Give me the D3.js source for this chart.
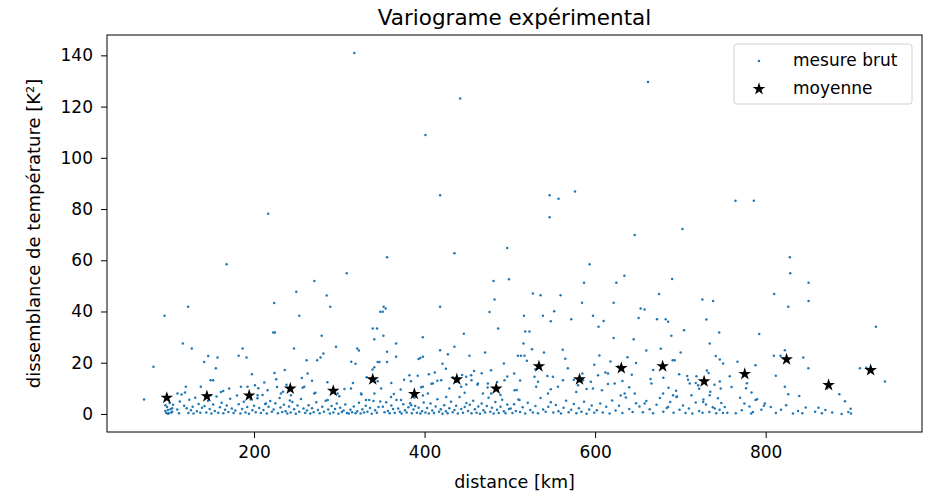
<!DOCTYPE html>
<html>
<head>
<meta charset="utf-8">
<script src="https://cdn.jsdelivr.net/npm/d3@7"></script>
<style>
  body { margin: 0; background: #fff; }
  text { font-family: "DejaVu Sans", sans-serif; fill: #000; }
</style>
</head>
<body>
<div id="wrapper"></div>
<script>
'use strict';

// raw measurements: distance [km] / dissemblance [K^2]
const rawPoints = [
  [71,5.6],[82,18.4],[95,38.3],[96,1.2],[97,0.4],[98,2.7],[99,1.5],[100,0.3],[101,4.3],[102,1.8],[103,0.6],[104,2.2],[96,3.4],[99,0.1],[104,0.9],[105,3.6],
  [116.5,27.5],[122.7,41.9],[127,25.6],[113,4.9],[115,7.6],[118,3.2],[119,8.4],[121,2.2],[123,0.4],[124,5.5],[126,1.4],[128,2.8],[129,0.2],[131,6.3],[133,1.1],[135,3.9],[137,0.5],[139,2.4],[110,1.7],[112,0.3],
  [141.5,20.3],[146.2,22.6],[157.2,22],[149,13.2],[152,13.2],[155.2,17.8],[163.8,9],[167.8,58.4],[181.9,22.7],[186.6,25.6],[191.2,22],[197.5,15.5],[192.4,10.6],[201,11.2],[205,10],
  [142,3.1],[144,0.6],[146,5.2],[148,1.9],[150,0.2],[152,3.7],[154,1.2],[156,6.8],[158,0.5],[160,2.6],[162,4.4],[164,0.3],[166,1.6],[168,3.3],[170,0.8],[172,5.9],[174,2.1],[176,0.4],[178,1.3],[180,7.2],[182,3.8],[184,0.2],[186,1.9],[188,4.8],[190,0.6],[192,2.7],[194,0.1],[196,5.6],[198,1.4],[200,3.2],[202,0.7],[204,6.1],
  [222.5,31.8],[224.5,31.8],[223.7,43.3],[224,16],[226,13.5],[227,10.5],[249.5,47.7],[246.8,25.6],[253,38.3],[256,14],[257,10.2],[261.7,21],[262.8,15.8],[216.6,78.2],[210,7.4],[214,4.1],[212,12.3],[230,6.2],[234,8.7],[238,11.4],[242,5.3],[236,17.2],
  [206,2.3],[208,0.4],[211,1.5],[213,3.9],[215,0.2],[217,2.8],[219,5.1],[221,0.9],[223,1.7],[225,4.2],[228,0.3],[231,2.5],[233,0.8],[235,3.6],[237,1.1],[239,0.2],[241,2.9],[243,0.6],[245,4.7],[247,1.8],[249,0.1],[251,3.3],[253,0.9],[255,5.8],[258,2.1],[260,0.4],
  [270.7,51.9],[274,21],[278,22],[279.3,30.5],[281.3,23.6],[285.2,46.2],[289.4,41.9],[296.1,26.2],[308.7,54.9],[314,20.4],[319,19.6],[321,25.6],[323,24.8],[339.2,33.4],[344.2,33.4],[341,29.2],[347,20.3],[348.1,39.9],[339,17.4],[341,18.2],[349,9.9],[268,13],[272,8.3],[286,12.4],[300,6.9],[306,9.7],[316,12.1],[326,7.6],[332,14.3],[335,5.4],[345,12.8],
  [262,1.3],[264,3.4],[266,0.2],[268,2.2],[270,0.7],[273,4.6],[275,1.5],[277,0.3],[280,2.8],[282,0.9],[284,5.2],[287,1.7],[289,0.2],[291,3.1],[293,0.6],[295,1.9],[297,4.1],[299,0.1],[301,2.4],[303,0.8],[305,1.3],[307,3.7],[309,0.4],[311,0.2],[313,1.6],[315,0.7],[317,2.9],[319,0.3],[321,1.1],[323,4.4],[325,0.2],[327,1.8],[329,0.6],[331,3.2],[333,0.9],[336,2.3],[338,0.1],[340,5.1],[342,1.4],[344,0.5],[346,2.7],[348,4.9],
  [356,61.2],[352,41.9],[354.4,41.2],[350.9,39.9],[351.7,30.5],[366.6,27.5],[366.6,22.3],[356,24.3],[356,20.3],[345,20.3],[397.9,29.9],[393,21.5],[395,21.8],[398,22.3],[401,108.9],[361,12.1],[364,7.8],[372,9.5],[376,13.4],[384,12.8],[388,6.3],[392,14.9],[396,10.4],[398,7.2],
  [351,2.8],[353,0.7],[355,4.6],[357,1.2],[359,0.3],[361,3.3],[363,1.9],[365,0.4],[367,5.4],[369,2.1],[371,0.9],[373,0.2],[375,3.8],[377,1.4],[379,0.6],[381,2.6],[383,4.2],[385,0.3],[387,1.7],[389,3.1],[391,0.5],[393,2.4],[395,0.2],[397,1.1],[399,4.5],
  [418.2,85.4],[441.7,123.2],[418.2,41.9],[418.2,24.9],[427.3,23.3],[435,26.2],[435,62.7],[446,31.3],[405,15.5],[408,11.8],[412,16.2],[415,13],[421,19.6],[425,17.6],[429,9.9],[433,14.3],[437,12.6],[444,15.2],[447,8.3],[449,11.5],
  [401,0.6],[403,2.3],[405,0.2],[407,4.1],[409,1.3],[411,0.4],[413,2.9],[415,5.7],[417,0.9],[419,1.8],[421,0.1],[423,3.4],[425,1.1],[427,0.3],[429,2.2],[431,4.8],[433,0.7],[435,1.5],[437,3.2],[439,0.2],[441,6.6],[443,1.9],[445,0.5],[447,2.7],[449,4.3],
  [452.6,22.7],[471,24],[476.1,39.8],[480.8,51.9],[482,44.7],[486.3,33.4],[496.9,64.8],[498.9,52.6],[455,13.2],[458,16.8],[462,11.4],[467,15.9],[474,10.3],[478,17.1],[485,12.5],[489,7.4],[493,19.7],[497,14.6],
  [451,1.2],[453,3.6],[455,0.3],[457,5.2],[459,1.8],[461,0.5],[463,2.9],[465,0.1],[467,4.1],[469,1.4],[471,0.6],[473,3.1],[475,6.3],[477,0.9],[479,2.4],[481,0.2],[483,4.7],[485,1.6],[487,0.4],[489,2.8],[491,5.5],[493,1.1],[495,0.3],[497,3.7],[499,1.9],
  [509.4,22.7],[513,22.7],[517.2,22.7],[516.5,38.3],[518,32.2],[523,32.2],[516,27.5],[520,20.8],[526,25.3],[527,47],[536,46.3],[538.8,38.3],[540,24],[546.6,85.4],[546.6,76.8],[557.1,84],[548,36.2],[552,40.1],[505,15.8],[508,9.4],[512,13.1],[530,17.5],[533,12.6],[544,14.8],[548,9.6],
  [501,2.1],[503,0.4],[505,3.8],[507,1.2],[510,5.6],[512,0.8],[515,2.6],[518,0.2],[521,4.4],[524,1.5],[527,0.6],[530,3.1],[533,0.3],[536,6.2],[539,1.7],[542,0.9],[545,2.8],[548,4.6],
  [559.5,46.3],[572,37],[576.4,86.8],[584.6,43.4],[587,51.2],[593.5,58.4],[597.5,38.3],[562,25.1],[565,21.6],[568,17.8],[575,13.4],[580,11.2],[585,15.8],[590,9.7],[595,12.6],[599,19.2],
  [551,0.6],[554,3.5],[557,1.1],[560,0.2],[563,2.4],[566,5.2],[569,0.7],[572,1.6],[575,3.9],[578,0.3],[581,2.2],[584,0.9],[587,4.8],[590,0.1],[593,1.7],[596,3.3],[599,0.5],
  [604,34],[610,36.3],[621.7,43.4],[624.9,51.2],[634.3,54],[621.7,29.7],[645.2,29.2],[646.4,69.9],[605,22.8],[612,16.2],[618,20.5],[627,18.6],[632,12.9],[638,22.1],[643,15.3],[648,19.9],[608,9.3],[615,11.7],[630,7.2],[640,10.4],
  [602,1.4],[606,4.1],[609,0.6],[613,2.8],[617,0.2],[620,5.3],[624,1.3],[628,3.2],[632,0.4],[636,6.4],[640,1.9],[644,0.8],[648,4.2],
  [651,37.5],[653.4,41.2],[658,40.8],[662,129.6],[672.6,37],[675,46.8],[682.8,37],[685.6,36],[689.4,30.5],[690.3,52.7],[691,21],[693.3,21],[698.5,15.5],[700.3,24],[702.4,72.2],[660,24.8],[665,13.6],[668,17.2],[677,25.5],[680,14.1],[686,10.2],[695,9.1],
  [652,2.9],[656,0.7],[660,5.1],[664,1.8],[668,0.3],[672,3.6],[676,6.2],[680,0.9],[684,2.3],[688,4.7],[692,0.5],[696,6.8],[699,1.6],
  [704.3,32.7],[725.8,44.7],[738.4,44.1],[730.5,36.9],[745.5,31.8],[734.4,27.5],[741.5,22.6],[746.2,21.3],[750.1,19.7],[731,17],[733,16],[708,14.8],[713,7.3],[718,12.1],[722,9.8],[727,5.6],[735,8.7],[740,11.4],[744,6.1],[748,4.3],
  [703,3.3],[706,0.4],[710,2.1],[714,0.2],[718,4.5],[722,1.2],[726,0.5],[730,3.7],[734,0.8],[738,2.6],[742,0.3],[746,1.6],[750,0.4],
  [757.9,14.7],[764.6,83.2],[767,20.4],[786.1,83.2],[788.1,19],[792.4,31.2],[778,12],[777,10],[760,10.5],[770,6.3],[775,4.1],[781,2.9],[785,0.8],[790,5.7],[795,1.6],[798,3.2],[765,0.3],[772,1.4],[783,0.2],[752,2.7],[755,0.5],
  [810,46.8],[828.3,61.2],[828.8,54.9],[826.5,41.9],[850.3,51.2],[850.3,44.1],[822.5,24.9],[809.6,22.7],[817.4,22.7],[844.1,22],[850,17.8],[811.9,14.9],[822.5,10.6],[826.5,7.7],[839.4,7],[806,2.7],[812,0.4],[818,1.6],[824,3.4],[832,0.2],[838,1.2],[843,0.3],[847,2.5],
  [872.2,9.9],[886.4,7.7],[893,5],[899.6,2],[896.9,0.8],[889,0],[910.5,17.8],[929.3,34],[939.9,12.7],[858,0.9],[862,2.4],[866,0.3],[870,1.5],[878,0.6],[900,0.2],[918,18],[921,16.5],
  [317.6,140.9],
  // mid band 3-16
  [110.2,8],[120,10.6],[137.6,10.6],[149.3,7.3],[161.1,8.6],[170.8,9.9],[184.6,10.6],[204.2,7.3],[215.9,9.3],[231.5,8],[243.3,7.3],[258.9,10.6],[270.6,8],[286.4,5.4],[298.1,8],[313.7,9.9],[325.5,8],
  [331.3,5.4],[341.1,8],[360.7,6.6],[372.4,5.4],[382.2,15.1],[384.2,3.4],[397.9,10.6],[403.8,8],[409.6,11.9],[419.4,13.2],[425.3,6.6],[442.9,10.6],[448.8,14.5],[454.6,15.1],[462.5,11.9],[468.4,8],[474.2,11.9],[478.1,8],[493.7,13.2],[505.5,9.3],[511.3,5.4],
  [528.9,14.5],[530.9,10.6],[544.7,8],[550.5,14.5],[556.4,10.6],[562.3,13.2],[577.9,8.6],[585.8,13.2],[597.5,9.9],[603.4,15.1],[615.1,15.8],[622.9,11.9],[634.6,8],[646.4,8],[658.1,4.1],[666,11.9],[679.7,8],[691.4,7.3],
  [709,13.4],[711,11.9],[718.8,14.7],[720.8,11.2],[726.7,4.7],[734.4,7.3],[740.3,2.1],[746.2,12.7],[747.3,9.9],[783.4,8.4],[788.1,5.4],[799,4.1],[695.3,6.6],[685.6,2.7]
];

// binned means
const meanDistance = [97.7, 144.7, 194.3, 242.5, 292.9, 339.2, 388, 437.8, 484, 534.1, 581.7, 630.7, 679.2, 727.8, 775.5, 824.5, 873.8, 923.1];
const meanValue = [6.3, 6.9, 7.2, 9.9, 9.0, 13.5, 7.8, 13.5, 9.9, 18.6, 13.5, 17.9, 18.6, 12.7, 15.6, 21.3, 11.3, 17.1];

const xTicks = [200, 400, 600, 800];
const yTicks = [0, 20, 40, 60, 80, 100, 120, 140];

const titleText = 'Variograme expérimental';
const xLabel = 'distance [km]';
const yLabel = 'dissemblance de température [K²]';
const legendLabels = ['mesure brut', 'moyenne'];

function drawVariogram () {

  const xAccessor = d => d[0];
  const yAccessor = d => d[1];
  const means = meanDistance.map((d, i) => [d, meanValue[i]]);

  const dimensions = {
    width: 931,
    height: 496,
    margin: { top: 35, right: 9, bottom: 64, left: 107 },
  };
  dimensions.boundedWidth = dimensions.width - dimensions.margin.left - dimensions.margin.right;
  dimensions.boundedHeight = dimensions.height - dimensions.margin.top - dimensions.margin.bottom;

  // matplotlib style 5% padding
  const pad = ([a, b]) => [a - (b - a) * 0.05, b + (b - a) * 0.05];
  const all = rawPoints.concat(means);

  const xScale = d3.scaleLinear()
    .domain(pad(d3.extent(all, xAccessor)))
    .range([0, dimensions.boundedWidth]);

  const yScale = d3.scaleLinear()
    .domain(pad(d3.extent(all, yAccessor)))
    .range([dimensions.boundedHeight, 0]);

  const wrapper = d3.select('#wrapper')
    .append('svg')
    .attr('width', dimensions.width)
    .attr('height', dimensions.height);

  const bounds = wrapper.append('g')
    .attr('transform', `translate(${dimensions.margin.left}, ${dimensions.margin.top})`);

  // raw points
  bounds.append('g')
    .selectAll('circle')
    .data(rawPoints)
    .join('circle')
    .attr('cx', d => xScale(xAccessor(d)))
    .attr('cy', d => yScale(yAccessor(d)))
    .attr('r', 1.25)
    .attr('fill', '#1f77b4');

  // means as stars
  const star = d3.symbol().type(d3.symbolStar).size(50);
  bounds.append('g')
    .selectAll('path')
    .data(means)
    .join('path')
    .attr('d', star)
    .attr('transform', d => `translate(${xScale(xAccessor(d))}, ${yScale(yAccessor(d))})`)
    .attr('fill', '#000');

  // axes
  const xAxis = bounds.append('g')
    .attr('transform', `translate(0, ${dimensions.boundedHeight})`)
    .call(d3.axisBottom(xScale).tickValues(xTicks).tickSize(6).tickPadding(8).tickSizeOuter(0));

  const yAxis = bounds.append('g')
    .call(d3.axisLeft(yScale).tickValues(yTicks).tickSize(6).tickPadding(8).tickSizeOuter(0));

  [xAxis, yAxis].forEach(ax => {
    ax.select('.domain').remove();
    ax.selectAll('text').attr('font-size', 17).attr('font-family', '"DejaVu Sans", sans-serif').attr('fill', '#000');
    ax.selectAll('line').attr('stroke', '#000').attr('stroke-width', 1);
  });

  // frame
  bounds.append('rect')
    .attr('width', dimensions.boundedWidth)
    .attr('height', dimensions.boundedHeight)
    .attr('fill', 'none')
    .attr('stroke', '#000')
    .attr('stroke-width', 1);

  // title & labels
  wrapper.append('text')
    .attr('x', dimensions.margin.left + dimensions.boundedWidth / 2)
    .attr('y', 25)
    .attr('text-anchor', 'middle')
    .attr('font-size', 21.5)
    .text(titleText);

  wrapper.append('text')
    .attr('x', dimensions.margin.left + dimensions.boundedWidth / 2)
    .attr('y', 488)
    .attr('text-anchor', 'middle')
    .attr('font-size', 17.5)
    .text(xLabel);

  wrapper.append('text')
    .attr('transform', `translate(40, ${dimensions.margin.top + dimensions.boundedHeight / 2}) rotate(-90)`)
    .attr('text-anchor', 'middle')
    .attr('font-size', 18)
    .text(yLabel);

  // legend
  const legend = wrapper.append('g')
    .attr('transform', 'translate(734, 44)');

  legend.append('rect')
    .attr('width', 178)
    .attr('height', 60)
    .attr('rx', 3)
    .attr('fill', '#fff')
    .attr('fill-opacity', 0.8)
    .attr('stroke', '#d0d0d0');

  legend.append('circle')
    .attr('cx', 25)
    .attr('cy', 17)
    .attr('r', 1.25)
    .attr('fill', '#1f77b4');

  legend.append('path')
    .attr('d', star)
    .attr('transform', 'translate(25, 45)')
    .attr('fill', '#000');

  legend.selectAll('text')
    .data(legendLabels)
    .join('text')
    .attr('x', 59)
    .attr('y', (d, i) => 22 + i * 28)
    .attr('font-size', 17)
    .text(d => d);
}

drawVariogram();
</script>
</body>
</html>
